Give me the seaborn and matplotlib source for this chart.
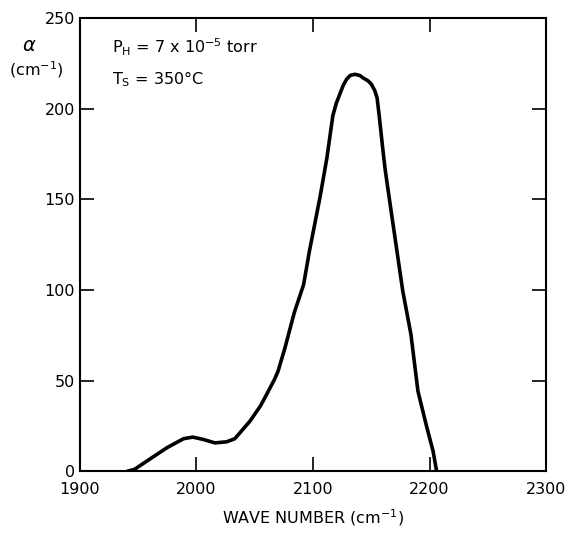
import matplotlib
matplotlib.use("Agg")
import matplotlib.pyplot as plt
import seaborn as sns
import pandas as pd

# absorption curve
wave_number = [1941, 1947, 1960, 1975, 1989, 1997, 2006, 2016, 2026, 2033, 2046,
               2055, 2060, 2067, 2070, 2076, 2084, 2092, 2097, 2106, 2112, 2117,
               2120, 2123, 2126, 2129, 2132, 2136, 2140, 2143, 2147, 2150, 2153,
               2155, 2157, 2160, 2162, 2167, 2172, 2177, 2184, 2190, 2197, 2203,
               2206]
alpha = [0, 1, 6.6, 13, 17.9, 18.8, 17.5, 15.6, 16.2, 17.9, 27.6,
         36, 42, 50.6, 55, 68, 87.5, 103, 121.5, 151, 173, 196,
         203, 208, 213, 216.4, 218.4, 219, 218.4, 217, 215.5, 213.6, 210,
         206, 195, 177, 166, 143.6, 121.5, 99.4, 75.5, 44.2, 25.8, 11,
         0]
x_ticks = [1900, 2000, 2100, 2200, 2300]
y_ticks = [0, 50, 100, 150, 200, 250]

df = pd.DataFrame({"wave": wave_number, "alpha": alpha})

sns.set_style("ticks")
plt.rcParams["font.family"] = ["DejaVu Sans"]
plt.rcParams["text.color"] = "black"

fig = plt.figure(figsize=(5.69, 5.33), dpi=100)
ax = fig.add_axes([0.14, 0.116, 0.82, 0.85])

sns.lineplot(data=df, x="wave", y="alpha", sort=False, color="black",
             linewidth=2.6, ax=ax, solid_joinstyle="round")

ax.set_xlim(1900, 2300)
ax.set_ylim(0, 250)
ax.set_xticks(x_ticks)
ax.set_yticks(y_ticks)
ax.tick_params(direction="in", length=10, width=1.2, top=True, right=True,
               labelsize=11.5, colors="black")
ax.tick_params(axis="x", pad=8)
for s in ax.spines.values():
    s.set_linewidth(1.5)
    s.set_color("black")

ax.set_xlabel("WAVE NUMBER (cm$^{-1}$)", fontsize=11.5, labelpad=7,
              color="black")
ax.set_ylabel("")
fig.text(0.052, 0.905, r"$\alpha$", fontsize=14, ha="center", color="black")
fig.text(0.063, 0.858, "(cm$^{-1}$)", fontsize=11.5, ha="center", color="black")

ax.text(0.07, 0.935, "P$_{\\rm H}$ = 7 x 10$^{-5}$ torr", transform=ax.transAxes,
        fontsize=11.5, va="center", color="black")
ax.text(0.07, 0.865, "T$_{\\rm S}$ = 350\u00b0C", transform=ax.transAxes,
        fontsize=11.5, va="center", color="black")

fig.savefig("out.png", dpi=100)
